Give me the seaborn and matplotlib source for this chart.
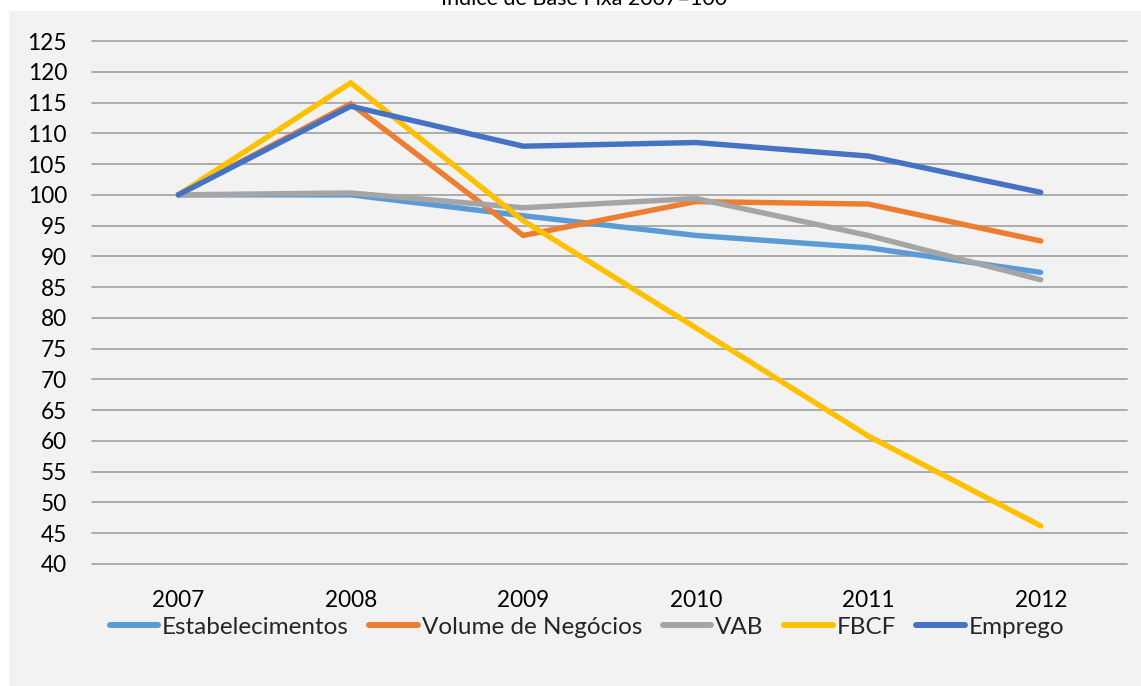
import matplotlib
matplotlib.use("Agg")
import matplotlib.pyplot as plt
import seaborn as sns
import pandas as pd
from matplotlib.patches import Rectangle

years = ["2007", "2008", "2009", "2010", "2011", "2012"]
estabelecimentos = [100.0, 100.0, 96.6, 93.4, 91.4, 87.4]
volume_negocios = [100.0, 114.8, 93.4, 98.9, 98.5, 92.5]
vab = [100.0, 100.3, 97.9, 99.4, 93.4, 86.2]
fbcf = [100.0, 118.2, 95.8, 78.4, 60.8, 46.2]
emprego = [100.0, 114.4, 107.9, 108.5, 106.3, 100.4]

series_names = ["Estabelecimentos", "Volume de Negócios", "VAB", "FBCF", "Emprego"]
series_values = [estabelecimentos, volume_negocios, vab, fbcf, emprego]
colors = ["#5B9BD5", "#ED7D31", "#A5A5A5", "#FFC000", "#4472C4"]
yticks = list(range(40, 130, 5))
title = "Índice de Base Fixa 2007=100"

rows = []
for name, vals in zip(series_names, series_values):
    for i, (yr, v) in enumerate(zip(years, vals)):
        rows.append({"pos": i + 0.5, "year": yr, "value": v, "serie": name})
df = pd.DataFrame(rows)

sns.set_theme(style="white")
plt.rcParams["font.family"] = ["Lato", "DejaVu Sans"]

W, H = 1141, 686
fig = plt.figure(figsize=(W / 100, H / 100), dpi=100, facecolor="#F2F2F2")
# white strips (cropped outer area)
fig.patches.append(Rectangle((0, 0), 9 / W, 1, transform=fig.transFigure,
                             facecolor="white", edgecolor="none", zorder=-1))
fig.patches.append(Rectangle((0, 1 - 11 / H), 1, 11 / H, transform=fig.transFigure,
                             facecolor="white", edgecolor="none", zorder=-1))

left, right = 92 / W, 1127 / W
top, bottom = 1 - 41 / H, 1 - 564 / H
ax = fig.add_axes([left, bottom, right - left, top - bottom])
ax.set_facecolor("#F2F2F2")

sns.lineplot(data=df, x="pos", y="value", hue="serie", hue_order=series_names,
             palette=colors, linewidth=3.9, ax=ax, legend=True,
             solid_capstyle="round", solid_joinstyle="miter")

ax.set_xlim(0, 6)
ax.set_ylim(40, 125)
ax.set_yticks(yticks)
ax.set_yticklabels([str(t) for t in yticks])
ax.set_xticks([i + 0.5 for i in range(len(years))])
ax.set_xticklabels(years)
ax.tick_params(axis="both", length=0, labelsize=16.3, colors="black")
ax.tick_params(axis="y", pad=18)
ax.tick_params(axis="x", pad=19)
ax.set_xlabel("")
ax.set_ylabel("")
for s in ax.spines.values():
    s.set_visible(False)
for t in yticks:
    ax.axhline(t, color="#A6A6A6", linewidth=1.3, zorder=0, clip_on=False)

handles, labels = ax.get_legend_handles_labels()
ax.legend_.remove()
for h in handles:
    h.set_linewidth(4.3)
    h.set_solid_capstyle("round")
fig.legend(handles, labels, loc="center", bbox_to_anchor=(587 / W, 1 - 627 / H),
           ncol=5, frameon=False, fontsize=17.5, handlelength=2.0,
           handletextpad=0.15, columnspacing=0.85, borderpad=0)

fig.text(584 / W, 1 - 5 / H, title, ha="center", va="baseline", fontsize=15.5, color="black")

fig.savefig("out.png", dpi=100, facecolor=fig.get_facecolor())
